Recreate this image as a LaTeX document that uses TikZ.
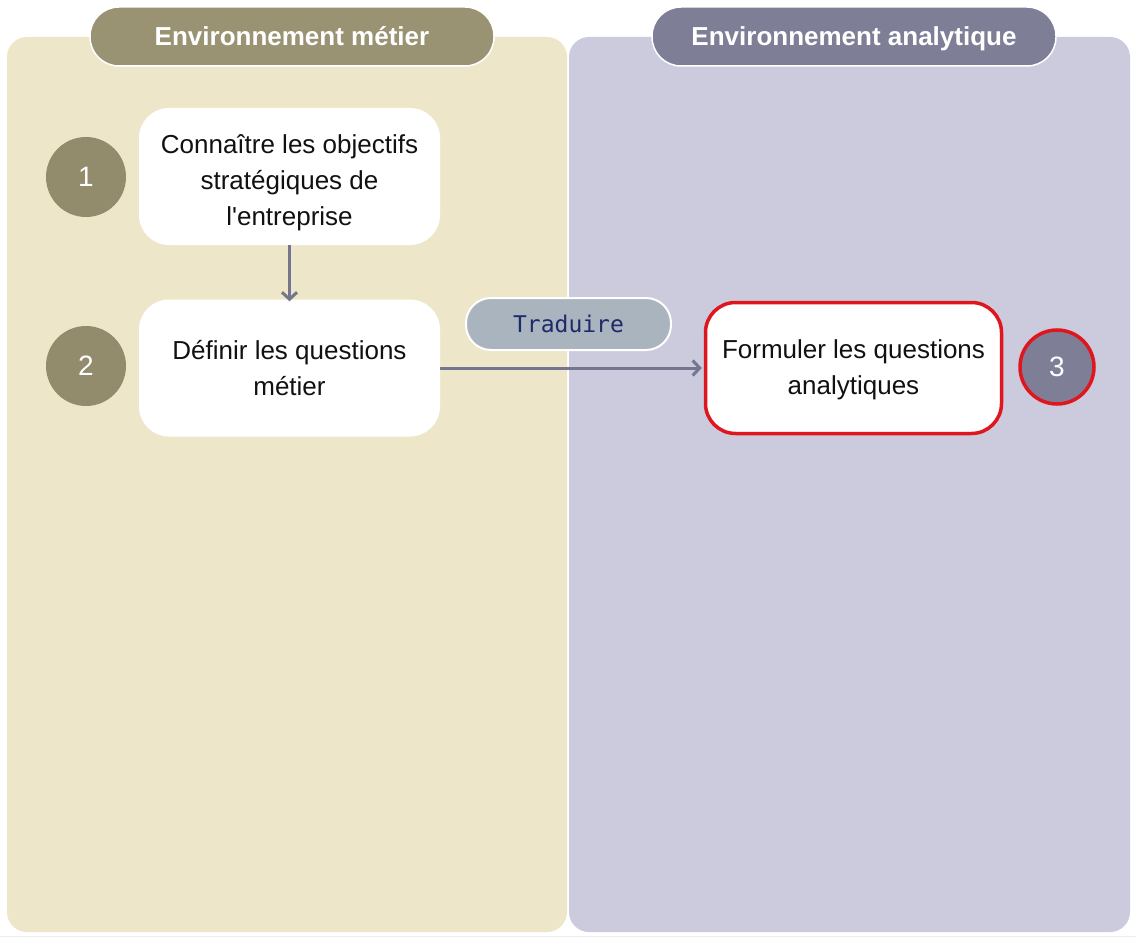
\documentclass[tikz,border=0pt]{standalone}
\usepackage{fontspec}
\setmainfont{Liberation Sans}
\setsansfont{Liberation Sans}
\newfontfamily\bodyfont{Liberation Sans}
\newfontfamily\monofont{DejaVu Sans Mono}
\usetikzlibrary{arrows.meta}
\definecolor{leftbg}{HTML}{EEE6C8}
\definecolor{rightbg}{HTML}{CBCBDD}
\definecolor{lefthead}{HTML}{9A9373}
\definecolor{righthead}{HTML}{7E7F97}
\definecolor{leftnum}{HTML}{928C6C}
\definecolor{arrowc}{HTML}{74758F}
\definecolor{redc}{HTML}{E0161E}
\definecolor{pillc}{HTML}{A9B4BE}
\definecolor{pilltext}{HTML}{1E2A6A}
\definecolor{textc}{HTML}{111111}
\tikzset{
  headpill/.style={draw=white, line width=1.5pt, rounded corners=29pt, minimum width=404pt, minimum height=59pt, text=white, font=\fontsize{26}{30}\selectfont\bfseries, inner sep=0pt, text height=21pt, text depth=3pt},
  stepbox/.style={draw=none, fill=white, rounded corners=30pt, minimum width=301pt, minimum height=137pt, align=center, text=textc, font=\bodyfont\fontsize{26}{36}\selectfont, inner sep=0pt},
  numcirc/.style={circle, minimum size=80pt, inner sep=0pt, text=white, font=\bodyfont\fontsize{28}{32}\selectfont},
  flow/.style={draw=arrowc, line width=3pt, -{Straight Barb[length=7pt,width=15pt,line width=3pt]}},
}
\begin{document}
\begin{tikzpicture}[x=1pt,y=-1pt]
\useasboundingbox[fill=white] (0,0) rectangle (1136,939);
\draw[line width=1pt, gray!15] (0,936.5) -- (1136,936.5);
% panels
\fill[leftbg, rounded corners=20pt] (7,37) rectangle (567,932);
\fill[rightbg, rounded corners=20pt] (569,37) rectangle (1130,932);
% headers
\node[headpill, fill=lefthead] (hl) at (292,36.5) {Environnement métier};
\node[headpill, fill=righthead] (hr) at (854,36.5) {Environnement analytique};
% boxes
\node[stepbox] (b1) at (289.5,176.5) {\rule{0pt}{31pt}Connaître les objectifs\\stratégiques de\\l'entreprise};
\node[stepbox] (b2) at (289.5,368) {Définir les questions\\métier};
\node[stepbox, draw=redc, line width=3.5pt, minimum width=296pt, minimum height=131pt] (b3) at (853.5,368) {\vphantom{É}Formuler les questions\\analytiques};
% numbers
\node[numcirc, fill=leftnum] (n1) at (86,177) {1};
\node[numcirc, fill=leftnum] (n2) at (86,366) {2};
\node[numcirc, fill=righthead, draw=redc, line width=3.5pt, minimum size=74pt] (n3) at (1057,367) {3};
% arrows
\draw[flow] (b1.south) -- ([yshift=-2pt]b2.north);
\draw[flow] (b2.east) -- ([xshift=-2pt]b3.west);
% pill
\node[draw=white, line width=2pt, fill=pillc, rounded corners=25pt, minimum width=205pt, minimum height=52pt, text=pilltext, font=\monofont\fontsize{23}{26}\selectfont, inner sep=0pt] (tr) at (568.5,324) {Traduire};
\end{tikzpicture}
\end{document}
